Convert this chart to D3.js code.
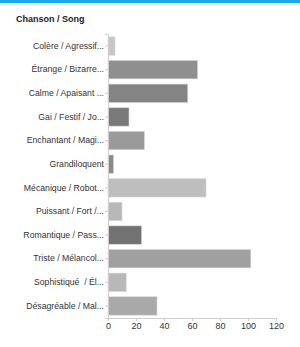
<!DOCTYPE html>
<html>
<head>
<meta charset="utf-8">
<script src="https://cdn.jsdelivr.net/npm/d3@7"></script>
<style>
  body { margin: 0; background: #fff; }
  text { font-family: "Liberation Sans", Arial, sans-serif; white-space: pre; }
</style>
</head>
<body>
<div id="chart"></div>
<script>
var svgWidth = 300;
var svgHeight = 347;

// data
var categories = [
    "Colère / Agressif...",
    "Étrange / Bizarre...",
    "Calme / Apaisant ...",
    "Gai / Festif / Jo...",
    "Enchantant / Magi...",
    "Grandiloquent",
    "Mécanique / Robot...",
    "Puissant / Fort /...",
    "Romantique / Pass...",
    "Triste / Mélancol...",
    "Sophistiqué  / Él...",
    "Désagréable / Mal..."
];
var counts = [5, 64, 57, 15, 26, 4, 70, 10, 24, 102, 13, 35];
var barColors = ["#c6c6c6", "#8f8f8f", "#848484", "#7a7a7a", "#9a9a9a", "#8a8a8a",
    "#bebebe", "#b8b8b8", "#727272", "#a0a0a0", "#b8b8b8", "#a9a9a9"];
var xTicks = [0, 20, 40, 60, 80, 100, 120];

var margin = { top: 34, left: 108, right: 24, bottom: 29 };
var width = svgWidth - margin.left - margin.right;
var height = svgHeight - margin.top - margin.bottom;

var svg = d3.select("#chart")
    .append("svg")
    .attr("width", svgWidth)
    .attr("height", svgHeight);

// top blue strip
svg.append("rect")
    .attr("x", 0).attr("y", 0)
    .attr("width", svgWidth).attr("height", 3)
    .attr("fill", "#1ea7ec");

svg.append("text")
    .attr("x", 16)
    .attr("y", 22)
    .attr("font-size", "9px")
    .attr("font-weight", "bold")
    .attr("fill", "#222")
    .text("Chanson / Song");

var chartGroup = svg.append("g")
    .attr("transform", `translate(${margin.left}, ${margin.top})`);

var xScale = d3.scaleLinear()
    .domain([0, 120])
    .range([0, width]);

var yScale = d3.scaleBand()
    .domain(categories)
    .range([0, height])
    .paddingInner(0.22)
    .paddingOuter(0.12);

// bars
chartGroup.append("g")
    .selectAll("rect")
    .data(categories)
    .enter()
    .append("rect")
    .attr("x", 0)
    .attr("y", d => yScale(d))
    .attr("width", (d, i) => xScale(counts[i]))
    .attr("height", yScale.bandwidth())
    .attr("fill", (d, i) => barColors[i])
    .attr("stroke", "#d8d8d8")
    .attr("stroke-width", 0.6);

// y axis
var leftAxis = d3.axisLeft(yScale).tickSize(3).tickPadding(1);
var yAxis = chartGroup.append("g").call(leftAxis);
yAxis.select(".domain").attr("stroke", "#cfcfcf");
yAxis.selectAll(".tick line").attr("stroke", "#cfcfcf");
yAxis.selectAll(".tick text")
    .attr("font-size", "8.7px")
    .attr("fill", "#333")
    .style("font-family", "'Liberation Sans', Arial, sans-serif");

// x axis
var bottomAxis = d3.axisBottom(xScale).tickValues(xTicks).tickSize(3).tickSizeOuter(0).tickPadding(2);
var xAxis = chartGroup.append("g")
    .attr("transform", `translate(0, ${height})`)
    .call(bottomAxis);
xAxis.select(".domain").attr("stroke", "#cfcfcf");
xAxis.selectAll(".tick line").attr("stroke", "#cfcfcf");
xAxis.selectAll(".tick text")
    .attr("font-size", "9px")
    .attr("fill", "#333")
    .style("font-family", "'Liberation Sans', Arial, sans-serif");
</script>
</body>
</html>
